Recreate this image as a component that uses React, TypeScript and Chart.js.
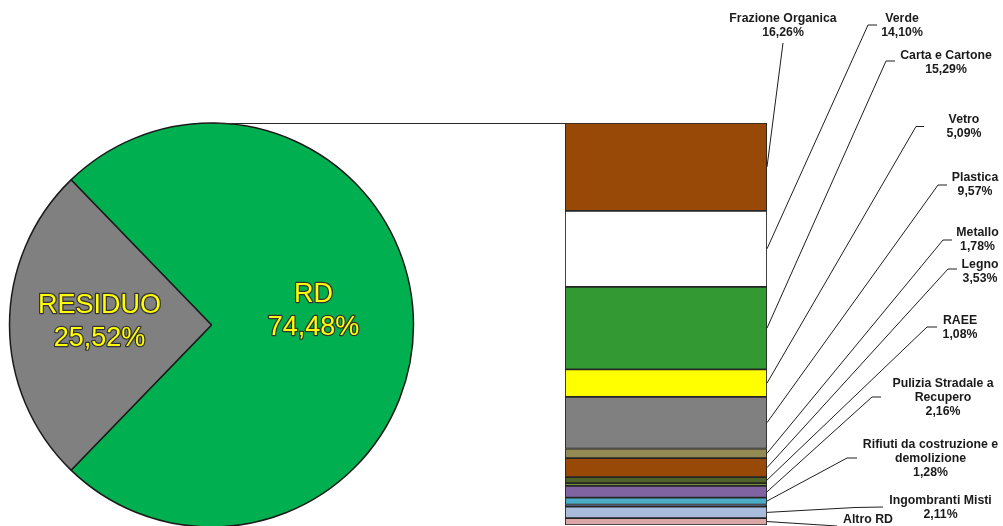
import React, { useEffect, useRef } from "react";
import { Chart, registerables } from "chart.js";

Chart.register(...registerables);

// ---- data ----
const PIE_LABELS = ["RD", "RESIDUO"];
const PIE_VALUES = [74.48, 25.52];
const PIE_COLORS = ["#00B050", "#808080"];

const BAR_LABELS = [
  "Frazione Organica",
  "Verde",
  "Carta e Cartone",
  "Vetro",
  "Plastica",
  "Metallo",
  "Legno",
  "RAEE",
  "",
  "Pulizia Stradale a\nRecupero",
  "Rifiuti da costruzione e\ndemolizione",
  "",
  "Ingombranti Misti",
  "Altro RD",
];
const BAR_VALUES = [16.26, 14.1, 15.29, 5.09, 9.57, 1.78, 3.53, 1.08, 0.55, 2.16, 1.28, 0.4, 2.11, 1.28];
const BAR_COLORS = [
  "#984807",
  "#FFFFFF",
  "#339933",
  "#FFFF00",
  "#808080",
  "#948A54",
  "#984807",
  "#4F6228",
  "#77933C",
  "#8064A2",
  "#4BACC6",
  "#1F3864",
  "#A9BCDB",
  "#DBA7A6",
];

// ---- layout (label placement only) ----
const PIE_LABEL_SHIFT = [
  [1, -13.5],
  [-11, -2.5],
];
type LabelPos = { x: number; y: number; pts: number[][] } | null;
const BAR_LABEL_POS: LabelPos[] = [
  { x: 783, y: 19, pts: [[783, 43]] },
  { x: 902, y: 19, pts: [[868, 25], [877, 25]] },
  { x: 946, y: 55.5, pts: [[886, 61], [895, 61]] },
  { x: 964, y: 120, pts: [[916, 126.5], [924, 126.5]] },
  { x: 975, y: 177.5, pts: [[938, 185], [947, 185]] },
  { x: 977.5, y: 232.5, pts: [[943, 240], [952, 240]] },
  { x: 980, y: 264.5, pts: [[948, 269], [957, 269]] },
  { x: 960, y: 321, pts: [[927, 327], [937, 327]] },
  null,
  { x: 943, y: 383.5, pts: [[872, 397], [881, 397]] },
  { x: 930.5, y: 445, pts: [[847, 458], [857, 458]] },
  null,
  { x: 940.5, y: 500.5, pts: [[855, 507.5], [883, 507]] },
  { x: 868, y: 520, pts: [[837, 526]] },
];

const fmt = (v: number) => v.toFixed(2).replace(".", ",") + "%";

export default function App() {
  const pieRef = useRef<HTMLCanvasElement>(null);
  const barRef = useRef<HTMLCanvasElement>(null);

  useEffect(() => {
    document.body.style.margin = "0";
    const W = 1003;
    const pieTotal = PIE_VALUES.reduce((a, b) => a + b, 0);
    const barTotal = BAR_VALUES.reduce((a, b) => a + b, 0);
    const rotation = 270 - (PIE_VALUES[0] / pieTotal) * 360 - (PIE_VALUES[1] / pieTotal) * 180;

    const pieLabelPlugin = {
      id: "pieLabels",
      afterDatasetsDraw(chart: any) {
        const ctx = chart.ctx;
        const meta = chart.getDatasetMeta(0);
        meta.data.forEach((arc: any, i: number) => {
          const mid = (arc.startAngle + arc.endAngle) / 2;
          const r = arc.outerRadius * 0.5;
          const cx = arc.x + Math.cos(mid) * r + PIE_LABEL_SHIFT[i][0];
          const cy = arc.y + Math.sin(mid) * r + PIE_LABEL_SHIFT[i][1];
          const lines = [PIE_LABELS[i], fmt(PIE_VALUES[i])];
          ctx.save();
          ctx.font = "27px 'Liberation Sans', Arial, sans-serif";
          ctx.textAlign = "center";
          ctx.textBaseline = "middle";
          ctx.lineJoin = "round";
          ctx.lineWidth = 2.5;
          ctx.strokeStyle = "#333333";
          ctx.fillStyle = "#FFFF00";
          lines.forEach((t, k) => {
            const y = cy + (k - 0.5) * 33;
            ctx.strokeText(t, cx, y);
            ctx.fillText(t, cx, y);
          });
          ctx.restore();
        });
      },
    };

    const pie = new Chart(pieRef.current as HTMLCanvasElement, {
      type: "pie",
      data: {
        labels: PIE_LABELS,
        datasets: [
          {
            data: PIE_VALUES,
            backgroundColor: PIE_COLORS,
            borderColor: "#1a1a1a",
            borderWidth: 1.5,
            clip: false,
          } as any,
        ],
      },
      options: {
        responsive: false,
        animation: false,
        events: [],
        rotation,
        radius: 202,
        layout: { padding: { left: 0, right: W - 423, top: 124, bottom: 0 } },
        plugins: { legend: { display: false }, tooltip: { enabled: false } },
      } as any,
      plugins: [pieLabelPlugin],
    });

    const barLabelPlugin = {
      id: "barLabels",
      afterDatasetsDraw(chart: any) {
        const ctx = chart.ctx;
        const area = chart.chartArea;
        ctx.save();
        // connector from pie top to bar top
        const arc0: any = pie.getDatasetMeta(0).data[0];
        if (arc0) {
          ctx.strokeStyle = "#2a2a2a";
          ctx.lineWidth = 1;
          ctx.beginPath();
          ctx.moveTo(arc0.x, arc0.y - arc0.outerRadius + 0.5);
          ctx.lineTo(area.left, area.top + 0.5);
          ctx.stroke();
        }
        BAR_LABELS.forEach((name, i) => {
          const pos = BAR_LABEL_POS[i];
          if (!name || !pos) return;
          const el: any = chart.getDatasetMeta(i).data[0];
          const midY = (el.y + el.base) / 2;
          const right = el.x + el.width / 2;
          ctx.strokeStyle = "#1e1e1e";
          ctx.lineWidth = 1;
          ctx.beginPath();
          ctx.moveTo(right, midY);
          pos.pts.forEach((p) => ctx.lineTo(p[0], p[1]));
          ctx.stroke();
          const lines = [...name.split("\n"), fmt(BAR_VALUES[i])];
          ctx.font = "bold 12.3px 'Liberation Sans', Arial, sans-serif";
          ctx.fillStyle = "#1a1a1a";
          ctx.textAlign = "center";
          ctx.textBaseline = "middle";
          lines.forEach((t, k) => ctx.fillText(t, pos.x, pos.y + k * 14));
        });
        ctx.restore();
      },
    };

    const bar = new Chart(barRef.current as HTMLCanvasElement, {
      type: "bar",
      data: {
        labels: [""],
        datasets: BAR_VALUES.map((v, i) => ({
          label: BAR_LABELS[i] || "segment " + i,
          data: [v],
          backgroundColor: BAR_COLORS[i],
          borderColor: "#262626",
          borderWidth: 1.2,
          borderSkipped: false,
          barPercentage: 1,
          categoryPercentage: 1,
          stack: "s",
        })),
      },
      options: {
        responsive: false,
        animation: false,
        events: [],
        layout: { padding: { left: 565, right: W - 767, top: 123, bottom: 1 } },
        scales: {
          x: { display: false, stacked: true },
          y: { display: false, stacked: true, reverse: true, min: 0, max: barTotal },
        },
        plugins: { legend: { display: false }, tooltip: { enabled: false } },
      } as any,
      plugins: [barLabelPlugin],
    });

    return () => {
      bar.destroy();
      pie.destroy();
    };
  }, []);

  return (
    <div style={{ position: "relative", width: 1003, height: 526, overflow: "hidden", background: "#fff" }}>
      <canvas ref={pieRef} width={1003} height={526} style={{ position: "absolute", left: 0, top: 0 }} />
      <canvas ref={barRef} width={1003} height={526} style={{ position: "absolute", left: 0, top: 0 }} />
    </div>
  );
}
